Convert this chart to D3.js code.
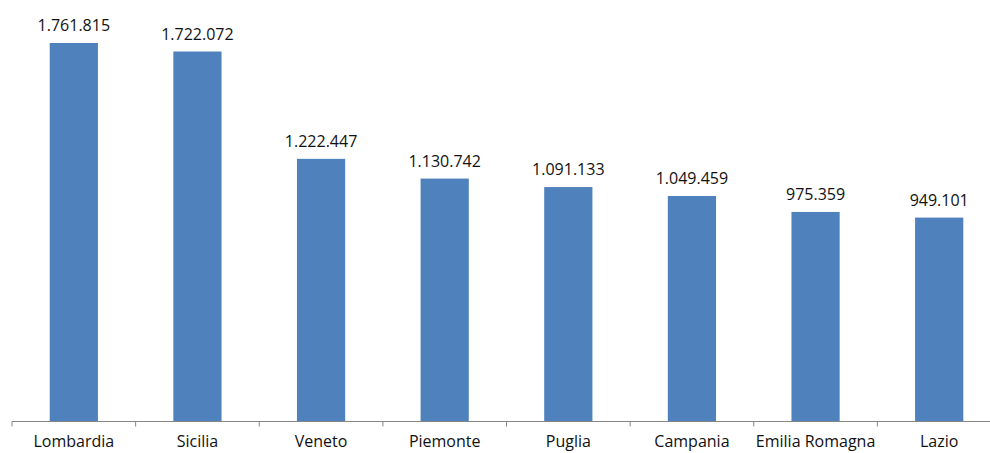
<!DOCTYPE html>
<html lang="it">
<head>
	<meta charset="utf-8">
	<title>Regioni</title>
	<script src="https://d3js.org/d3.v7.min.js"></script>
	<style type="text/css">
		body { margin: 0; background: #fff; }
		.lbl { font: 16px "Open Sans", sans-serif; fill: #111; }
	</style>
</head>
<body>
	<script type="text/javascript">

	// data
	var regions = ["Lombardia", "Sicilia", "Veneto", "Piemonte", "Puglia", "Campania", "Emilia Romagna", "Lazio"]
	var values = [1761815, 1722072, 1222447, 1130742, 1091133, 1049459, 975359, 949101]
	var valueLabels = ["1.761.815", "1.722.072", "1.222.447", "1.130.742", "1.091.133", "1.049.459", "975.359", "949.101"]

	var w = 990, h = 453
	var base = 421.5

	var xScale = d3.scaleBand().domain(regions).range([12, 1001]).paddingInner(0.61).paddingOuter(0.305)
	var yScale = d3.scaleLinear().domain([0, 2000000]).range([base, -8.2])

	var svg = d3.select("body").append("svg")
		.attr("width", w)
		.attr("height", h)

	var rows = regions.map((r, i) => ({ region: r, value: values[i], label: valueLabels[i] }))

	// bars
	svg.append("g").selectAll("rect")
		.data(rows)
		.enter()
		.append("rect")
		.attr("x", d => xScale(d.region))
		.attr("y", d => yScale(d.value))
		.attr("width", xScale.bandwidth())
		.attr("height", d => base - yScale(d.value))
		.attr("fill", "#4f81bd")

	// value labels
	svg.append("g").selectAll("text")
		.data(rows)
		.enter()
		.append("text")
		.attr("class", "lbl")
		.attr("x", d => xScale(d.region) + xScale.bandwidth() / 2)
		.attr("y", d => yScale(d.value) - 12)
		.attr("text-anchor", "middle")
		.text(d => d.label)

	// x axis: baseline with ticks between categories
	var step = xScale.step()
	var edges = d3.range(regions.length + 1).map(i => 12 + i * step)
	var ax = svg.append("g")
	ax.append("line")
		.attr("x1", 12).attr("x2", 1001)
		.attr("y1", base).attr("y2", base)
		.attr("stroke", "#868686").attr("stroke-width", 1)
	ax.selectAll(".tk")
		.data(edges)
		.enter()
		.append("line")
		.attr("x1", d => d).attr("x2", d => d)
		.attr("y1", base).attr("y2", base + 5)
		.attr("stroke", "#868686").attr("stroke-width", 1)

	// category labels
	svg.append("g").selectAll("text")
		.data(rows)
		.enter()
		.append("text")
		.attr("class", "lbl")
		.attr("x", d => xScale(d.region) + xScale.bandwidth() / 2)
		.attr("y", 447)
		.attr("text-anchor", "middle")
		.text(d => d.region)

	</script>
</body>
</html>
